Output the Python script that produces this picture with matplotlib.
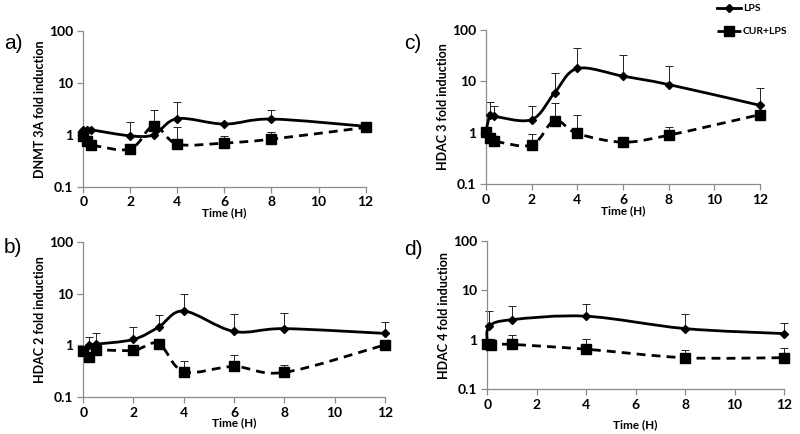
import numpy as np
import matplotlib
matplotlib.use("Agg")
from matplotlib import pyplot as plt
from matplotlib.path import Path
from matplotlib.patches import PathPatch
from matplotlib.lines import Line2D
from matplotlib.ticker import FixedLocator, NullLocator

plt.rcParams['font.family'] = ['Lato', 'DejaVu Sans']

# ---- data ----
# a) DNMT 3A
t_a = [0, 0.17, 0.33, 2, 3, 4, 6, 8, 12]
lps_a = [1.25, 1.22, 1.24, 0.95, 1.0, 2.04, 1.6, 2.0, 1.45]
lps_a_top = [0, 0, 0, 1.75, 0, 4.2, 0, 2.95, 1.75]
cur_a = [0.95, 0.74, 0.64, 0.53, 1.48, 0.66, 0.69, 0.82, 1.38]
cur_a_top = [0, 0, 0, 0, 3.0, 1.42, 0.93, 1.15, 1.6]

# b) HDAC 2
t_b = [0, 0.25, 0.5, 2, 3, 4, 6, 8, 12]
lps_b = [0.8, 1.0, 1.05, 1.3, 2.25, 4.6, 1.85, 2.1, 1.7]
lps_b_top = [0, 1.42, 1.7, 2.25, 3.8, 9.8, 4.0, 4.2, 2.8]
cur_b = [0.77, 0.6, 0.8, 0.8, 1.08, 0.31, 0.39, 0.3, 1.02]
cur_b_top = [0.97, 0, 0, 0, 0, 0.5, 0.64, 0.41, 0]

# c) HDAC 3
t_c = [0, 0.17, 0.33, 2, 3, 4, 6, 8, 12]
lps_c = [1.08, 2.2, 2.1, 1.8, 5.9, 17.6, 12.5, 8.6, 3.4]
lps_c_top = [0, 3.9, 3.3, 3.3, 14.5, 43, 31.5, 20, 7.5]
cur_c = [1.02, 0.8, 0.7, 0.58, 1.72, 0.97, 0.66, 0.9, 2.25]
cur_c_top = [0, 0, 0, 0.93, 3.7, 2.25, 0, 1.3, 0]

# d) HDAC 4
t_d_lps = [0, 0.08, 1, 4, 8, 12]
t_d_cur = [0, 0.17, 1, 4, 8, 12]
lps_d = [0.82, 1.87, 2.55, 3.0, 1.68, 1.33]
lps_d_top = [0, 3.8, 4.8, 5.4, 3.3, 2.2]
cur_d = [0.82, 0.79, 0.8, 0.64, 0.43, 0.43]
cur_d_top = [0, 1.05, 1.22, 1.05, 0.61, 0.69]

x_ticks = [0, 2, 4, 6, 8, 10, 12]
y_ticks = [0.1, 1, 10, 100]
y_ticklabels = ["0.1", "1", "10", "100"]


def smooth_path(x, y):
    # excel-like smoothed line: bezier segments with catmull-rom control points (log y)
    x = np.asarray(x, float)
    ly = np.log10(np.asarray(y, float))
    n = len(x)
    verts = [(x[0], 10 ** ly[0])]
    codes = [Path.MOVETO]
    for i in range(n - 1):
        i0, i2, i3 = max(i - 1, 0), i + 1, min(i + 2, n - 1)
        c1x = x[i] + (x[i2] - x[i0]) / 6
        c1y = ly[i] + (ly[i2] - ly[i0]) / 6
        c2x = x[i2] - (x[i3] - x[i]) / 6
        c2y = ly[i2] - (ly[i3] - ly[i]) / 6
        verts += [(c1x, 10 ** c1y), (c2x, 10 ** c2y), (x[i2], 10 ** ly[i2])]
        codes += [Path.CURVE4] * 3
    return Path(verts, codes)


def series(ax, x, y, top, kind):
    x = np.asarray(x, float)
    y = np.asarray(y, float)
    top = np.asarray(top, float)
    m = top > 0
    if m.any():
        eb = ax.errorbar(x[m], y[m], yerr=[np.zeros(m.sum()), top[m] - y[m]],
                         fmt='none', ecolor='#222222', elinewidth=0.7,
                         capsize=3, capthick=0.7, zorder=2)
        eb[1][0].set_visible(False)
    if kind == 'lps':
        ax.add_patch(PathPatch(smooth_path(x, y), fill=False, edgecolor='black',
                               lw=2.0, zorder=4))
        ax.plot(x, y, ls='none', marker='D', ms=4.5, color='black', zorder=5)
    else:
        ax.add_patch(PathPatch(smooth_path(x, y), fill=False, edgecolor='black',
                               lw=2.0, linestyle=(0, (3.2, 2.2)), zorder=3))
        ax.plot(x, y, ls='none', marker='s', ms=7.5, color='black', zorder=5)


def panel(rect, label, ylabel, tl, lps, lps_top, tc, cur, cur_top, xlabel_pad):
    ax = fig.add_axes(rect)
    series(ax, tc, cur, cur_top, 'cur')
    series(ax, tl, lps, lps_top, 'lps')
    ax.set_yscale('log')
    ax.set_ylim(0.1, 100)
    ax.set_xlim(0, 12)
    ax.yaxis.set_major_locator(FixedLocator(y_ticks))
    ax.yaxis.set_minor_locator(NullLocator())
    ax.set_yticklabels(y_ticklabels)
    ax.set_xticks(x_ticks)
    for s in ['top', 'right']:
        ax.spines[s].set_visible(False)
    for s in ['left', 'bottom']:
        ax.spines[s].set_color('#8c8c8c')
        ax.spines[s].set_linewidth(0.9)
    ax.tick_params(length=4, width=0.9, color='#8c8c8c', labelsize=10, pad=3)
    for t in ax.get_xticklabels() + ax.get_yticklabels():
        t.set_fontweight('bold')
    ax.set_ylabel(ylabel, fontsize=9, fontweight='bold', labelpad=2)
    ax.set_xlabel("Time (H)", fontsize=8.5, fontweight='bold', labelpad=xlabel_pad)
    for art in ax.patches + ax.lines + ax.collections:
        art.set_clip_on(False)
    return ax


fig = plt.figure(figsize=(8, 4.34), dpi=100)

panel([0.104, 0.570, 0.353, 0.359], "a)", "DNMT 3A fold induction",
      t_a, lps_a, lps_a_top, t_a, cur_a, cur_a_top, -1)
panel([0.6075, 0.575, 0.3425, 0.357], "c)", "HDAC 3 fold induction",
      t_c, lps_c, lps_c_top, t_c, cur_c, cur_c_top, -1)
panel([0.104, 0.085, 0.377, 0.358], "b)", "HDAC 2 fold induction",
      t_b, lps_b, lps_b_top, t_b, cur_b, cur_b_top, -1)
panel([0.609, 0.104, 0.371, 0.340], "d)", "HDAC 4 fold induction",
      t_d_lps, lps_d, lps_d_top, t_d_cur, cur_d, cur_d_top, 6)

for txt, x, y in [("a)", 0.005, 0.90), ("c)", 0.505, 0.90),
                  ("b)", 0.005, 0.43), ("d)", 0.505, 0.425)]:
    fig.text(x, y, txt, fontsize=15, family=['Liberation Sans', 'DejaVu Sans'],
             va='center', ha='left')

handles = [Line2D([], [], color='black', lw=2.0, marker='D', ms=4.5),
           Line2D([], [], color='black', lw=2.0, ls=(0, (3.2, 2.2)), marker='s', ms=7)]
fig.legend(handles, ["LPS", "CUR+LPS"], loc='upper left', bbox_to_anchor=(0.885, 1.012),
           frameon=False, handlelength=2.3, handletextpad=0.15, labelspacing=1.3,
           prop={'size': 7.5, 'weight': 'bold'})

fig.savefig("out.png", dpi=100)
